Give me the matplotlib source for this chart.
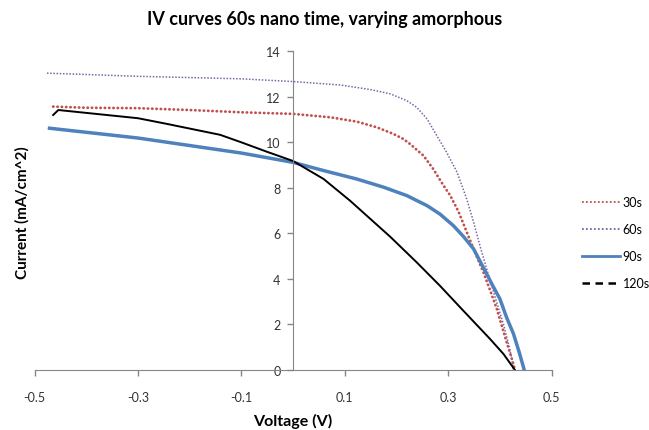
import matplotlib
matplotlib.use('Agg')
import matplotlib.pyplot as plt
from matplotlib.lines import Line2D

plt.rcParams['font.family'] = ['Lato', 'DejaVu Sans']

# series (voltage V, current mA/cm^2)
v_30 = [-0.464, -0.40, -0.30, -0.20, -0.10, 0.0, 0.072, 0.123, 0.162, 0.194,
        0.213, 0.226, 0.252, 0.271, 0.291, 0.304, 0.320, 0.336, 0.352, 0.368,
        0.381, 0.394, 0.413, 0.425, 0.429]
i_30 = [11.57, 11.52, 11.50, 11.42, 11.32, 11.25, 11.10, 10.91, 10.66, 10.37,
        10.15, 9.93, 9.42, 8.83, 8.10, 7.66, 6.95, 6.05, 5.15, 4.29,
        3.50, 2.68, 1.22, 0.34, 0.0]

v_60 = [-0.476, -0.30, -0.10, 0.0, 0.091, 0.149, 0.188, 0.220, 0.239, 0.259,
        0.278, 0.297, 0.317, 0.336, 0.349, 0.362, 0.375, 0.394, 0.407, 0.417,
        0.423, 0.426]
i_60 = [13.04, 12.90, 12.79, 12.67, 12.52, 12.32, 12.13, 11.83, 11.54, 11.03,
        10.29, 9.56, 8.69, 7.50, 6.50, 5.40, 4.40, 2.95, 2.00, 1.10,
        0.50, 0.0]

v_90 = [-0.471, -0.30, -0.20, -0.10, 0.0, 0.059, 0.123, 0.175, 0.220, 0.259,
        0.284, 0.310, 0.330, 0.349, 0.368, 0.385, 0.400, 0.413, 0.426, 0.437,
        0.447]
i_90 = [10.62, 10.19, 9.86, 9.53, 9.12, 8.76, 8.39, 8.03, 7.66, 7.22,
        6.85, 6.34, 5.85, 5.32, 4.50, 3.75, 3.12, 2.30, 1.60, 0.80,
        0.0]

v_120 = [-0.464, -0.454, -0.30, -0.244, -0.141, -0.10, -0.051, 0.0, 0.059, 0.110,
         0.188, 0.239, 0.284, 0.329, 0.381, 0.407, 0.429]
i_120 = [11.20, 11.42, 11.06, 10.81, 10.33, 10.00, 9.59, 9.18, 8.39, 7.44,
         5.85, 4.73, 3.70, 2.61, 1.36, 0.70, 0.0]

labels = ['30s', '60s', '90s', '120s']
x_ticks = [-0.5, -0.3, -0.1, 0.1, 0.3, 0.5]
y_ticks = [0, 2, 4, 6, 8, 10, 12, 14]

fig = plt.figure(figsize=(6.49, 4.31), dpi=100)
ax = fig.add_axes([0.0532, 0.1392, 0.7968, 0.7395])

ax.plot(v_30, i_30, color='#C0504D', lw=2.0, ls=(0, (0.1, 1.45)), dash_capstyle='round')
ax.plot(v_60, i_60, color='#8064A2', lw=1.1, ls=(0, (1, 1.1)))
ax.plot(v_90, i_90, color='#4F81BD', lw=2.5)
ax.plot(v_120, i_120, color='black', lw=1.4)

ax.set_xlim(-0.5, 0.5)
ax.set_ylim(0, 14)
ax.set_xticks(x_ticks)
ax.set_xticklabels([str(t) for t in x_ticks])
ax.set_yticks(y_ticks)

ax.spines['left'].set_position(('data', 0))
ax.spines['top'].set_visible(False)
ax.spines['right'].set_visible(False)
for s in ['left', 'bottom']:
    ax.spines[s].set_color('#868686')
ax.tick_params(axis='both', colors='#868686', labelcolor='#333333', labelsize=9,
               length=4, width=1)
ax.tick_params(axis='x', pad=11)
ax.tick_params(axis='y', pad=5)

fig.suptitle('IV curves 60s nano time, varying amorphous', x=0.5, y=0.975,
             fontsize=13, fontweight='bold')
fig.text(0.4515, 0.023, 'Voltage (V)', ha='center', va='center', fontsize=11.5,
         fontweight='bold')
fig.text(0.035, 0.506, 'Current (mA/cm^2)', ha='center', va='center', rotation=90,
         fontsize=11, fontweight='bold')

# legend swatches as drawn in the reference (thin dots, dashed black)
handles = [Line2D([], [], color='#C0504D', lw=1.3, ls=(0, (1, 1.2))),
           Line2D([], [], color='#8064A2', lw=1.3, ls=(0, (1, 1.2))),
           Line2D([], [], color='#4F81BD', lw=2.0),
           Line2D([], [], color='black', lw=1.8, ls=(0, (3, 2.2)))]
fig.legend(handles, labels, loc='upper left', bbox_to_anchor=(0.896, 0.542),
           frameon=False, fontsize=9, handlelength=3.1, handletextpad=0.2,
           labelspacing=1.2, borderaxespad=0, borderpad=0)

fig.savefig('out.png', dpi=100)
